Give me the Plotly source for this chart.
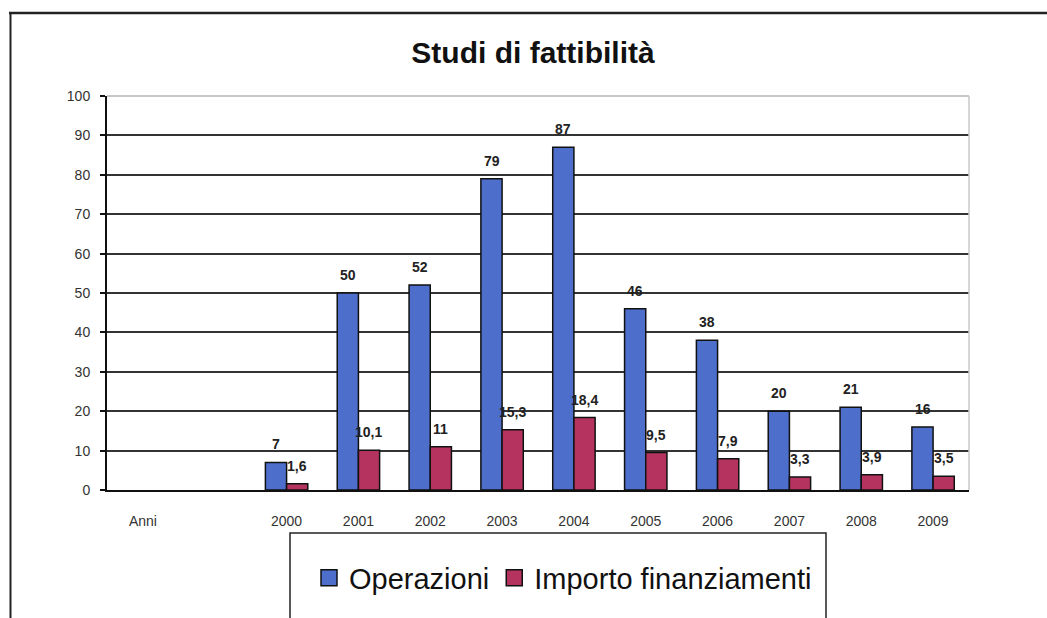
import plotly.graph_objects as go

categories = ["Anni", " ", "2000", "2001", "2002", "2003", "2004", "2005", "2006", "2007", "2008", "2009"]
operazioni = [None, None, 7, 50, 52, 79, 87, 46, 38, 20, 21, 16]
importo = [None, None, 1.6, 10.1, 11, 15.3, 18.4, 9.5, 7.9, 3.3, 3.9, 3.5]
y_ticks = [0, 10, 20, 30, 40, 50, 60, 70, 80, 90, 100]
series_names = ["Operazioni", "Importo finanziamenti"]
title_text = "Studi di fattibilità"

def fmt(v):
    return ("%g" % v).replace(".", ",")

blue = "#4d6fcb"
red = "#b5345f"
colors = [blue, red]
FONT = "Arial, Liberation Sans"

fig = go.Figure()
for name, vals, col in zip(series_names, [operazioni, importo], colors):
    fig.add_trace(go.Bar(
        x=categories, y=vals, name=name, showlegend=False,
        marker=dict(color=col, line=dict(color="#111", width=1.5)),
    ))
# legend proxies (larger square symbols)
for name, col in zip(series_names, colors):
    fig.add_trace(go.Scatter(
        x=[None], y=[None], mode="markers", name=name,
        marker=dict(symbol="square", size=16, color=col, line=dict(color="#111", width=1.5)),
    ))

W, H = 1047, 618
L, R, T, B = 107, 969, 96, 490
pw, ph = R - L, B - T
bar_px = 21  # approx bar width in px, for label centring

# value labels above bars (x given as category index)
annotations = []
for vals, shift in [(operazioni, -bar_px / 2), (importo, bar_px / 2)]:
    for i, v in enumerate(vals):
        if v is None:
            continue
        annotations.append(dict(
            x=i, y=v, xref="x", yref="y", text="<b>" + fmt(v) + "</b>", showarrow=False,
            xanchor="center", yanchor="bottom", xshift=shift, yshift=8,
            font=dict(family=FONT, size=14, color="#222"),
        ))

def px(x):
    return (x - L) / pw

def py(y):
    return (B - y) / ph

fig.update_layout(
    width=W, height=H,
    margin=dict(l=L, r=W - R, t=T, b=H - B),
    paper_bgcolor="white", plot_bgcolor="white",
    barmode="group", bargap=0.41, bargroupgap=0,
    font=dict(family=FONT, color="#222"),
    title=dict(text="<b>" + title_text + "</b>", x=px(533), xref="paper", xanchor="center",
               y=1 - 52 / H, yanchor="middle",
               font=dict(family=FONT, size=30, color="#111")),
    showlegend=True,
    legend=dict(orientation="h", x=px(563), xanchor="center", y=py(578), yanchor="middle",
                font=dict(family=FONT, size=29, color="#111"),
                bgcolor="rgba(0,0,0,0)", itemwidth=30, tracegroupgap=0),
    annotations=annotations,
    xaxis=dict(type="category", categoryorder="array", categoryarray=categories,
               range=[-0.5, len(categories) - 0.5],
               showline=True, linecolor="#111", linewidth=2,
               ticks="", ticklabelstandoff=17,
               tickfont=dict(family=FONT, size=14, color="#333")),
    yaxis=dict(range=[0, 100], tickvals=y_ticks, showline=True, linecolor="#111", linewidth=2,
               ticks="outside", ticklen=5, tickcolor="#111", tickwidth=1.5, ticklabelstandoff=7,
               showgrid=True, gridcolor="#333", gridwidth=1.5, zeroline=False,
               tickfont=dict(family=FONT, size=14, color="#333")),
    shapes=[
        dict(type="line", xref="paper", yref="paper", x0=0, x1=1, y0=1, y1=1,
             line=dict(color="#c8c8c8", width=2), layer="above"),
        dict(type="line", xref="paper", yref="paper", x0=1, x1=1, y0=0, y1=1,
             line=dict(color="#c8c8c8", width=1.5), layer="above"),
        dict(type="rect", xref="paper", yref="paper", x0=px(290), x1=px(826), y0=py(640), y1=py(533),
             line=dict(color="#222", width=1.5), fillcolor="rgba(0,0,0,0)", layer="above"),
        dict(type="line", xref="paper", yref="paper", x0=px(9), x1=px(1047), y0=py(13), y1=py(13),
             line=dict(color="#222", width=2.5), layer="above"),
        dict(type="line", xref="paper", yref="paper", x0=px(10.5), x1=px(10.5), y0=py(13), y1=py(625),
             line=dict(color="#222", width=2), layer="above"),
    ],
)

fig.write_html("out.html", config={"displayModeBar": False},
               post_script="document.body.style.margin='0';document.body.style.overflow='hidden';")
